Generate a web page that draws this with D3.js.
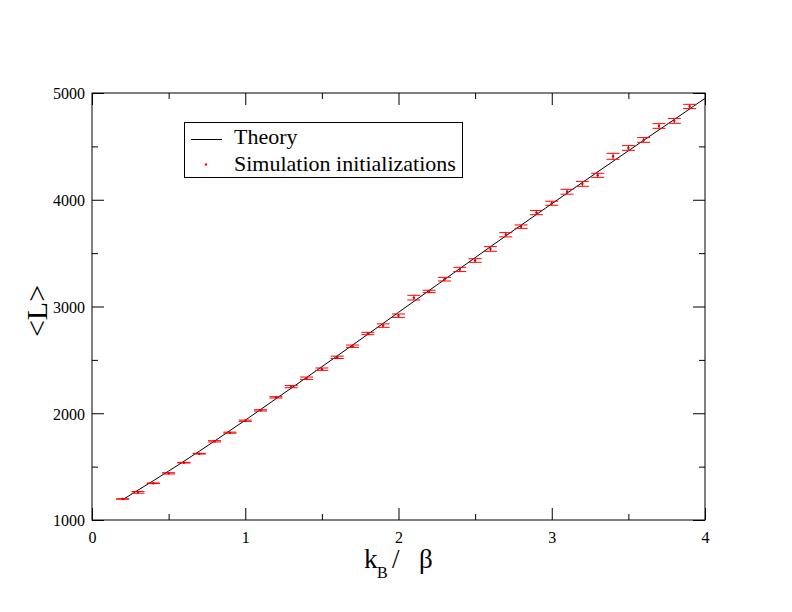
<!DOCTYPE html>
<html>
<head>
<meta charset="utf-8">
<script src="https://cdn.jsdelivr.net/npm/d3@7"></script>
<style>
html,body{margin:0;padding:0;background:#fff;}
svg{display:block;}
text{font-family:"Liberation Serif","Times New Roman",serif;}
</style>
</head>
<body>
<svg id="chart" width="792" height="612" font-family="Liberation Serif, serif"></svg>
<script>
// ---- data ----
const simX = [0.2,0.3,0.4,0.5,0.6,0.7,0.8,0.9,1.0,1.1,1.2,1.3,1.4,1.5,1.6,1.7,1.8,1.9,2.0,2.1,2.2,2.3,2.4,2.5,2.6,2.7,2.8,2.9,3.0,3.1,3.2,3.3,3.4,3.5,3.6,3.7,3.8,3.9];
const simY = [1197,1259,1344,1437,1537,1621,1737,1818,1930,2027,2149,2249,2328,2413,2524,2628,2747,2821,2914,3083,3141,3256,3347,3431,3539,3672,3748,3880,3967,4075,4149,4229,4407,4485,4560,4691,4739,4874];
const simErr = [2,8,3,6,3,3,6,5,6,6,6,10,11,11,11,11,11,16,16,22,11,17,20,17,22,20,16,20,19,23,23,19,28,22,22,22,23,20];
const theoryX = [0.2,0.4,0.6,0.8,1.0,1.2,1.4,1.6,1.8,2.0,2.2,2.4,2.6,2.8,3.0,3.2,3.4,3.6,3.8,4.0];
const theoryY = [1190,1368,1550,1740,1935,2135,2335,2537,2740,2945,3150,3355,3560,3762,3962,4162,4360,4557,4752,4950];
const xMajor = [0,1,2,3,4];
const xMinor = [0.5,1.5,2.5,3.5];
const yMajor = [1000,2000,3000,4000,5000];
const yMinor = [1500,2500,3500,4500];
const legendLabels = ["Theory","Simulation initializations"];

// ---- layout ----
const L = 92, R = 705, T = 93, B = 520;
const FONT = "Liberation Serif, Times New Roman, serif";
const x = d3.scaleLinear().domain([0,4]).range([L,R]);
const y = d3.scaleLinear().domain([1000,5000]).range([B,T]);
const svg = d3.select("#chart");

// frame
svg.append("rect").attr("x",L).attr("y",T).attr("width",R-L).attr("height",B-T)
  .attr("fill","none").attr("stroke","#000").attr("stroke-width",1);

// axes with inward ticks
function ax(gen, tx, ty, vals, size, fmt, pad){
  const g = svg.append("g").attr("transform",`translate(${tx},${ty})`)
    .call(gen.tickValues(vals).tickFormat(fmt).tickSizeInner(-size).tickSizeOuter(0).tickPadding(pad));
  g.attr("font-family",FONT).attr("font-size",16);
  return g;
}
ax(d3.axisBottom(x), 0, B, xMajor, 12, d3.format("d"), 12);
ax(d3.axisBottom(x), 0, B, xMinor, 6, ()=>"", 3);
ax(d3.axisTop(x), 0, T, xMajor, 12, ()=>"", 3);
ax(d3.axisTop(x), 0, T, xMinor, 6, ()=>"", 3);
const gyL = ax(d3.axisLeft(y), L, 0, yMajor, 12, d3.format("d"), 7);
ax(d3.axisLeft(y), L, 0, yMinor, 6, ()=>"", 3);
ax(d3.axisRight(y), R, 0, yMajor, 12, ()=>"", 3);
ax(d3.axisRight(y), R, 0, yMinor, 6, ()=>"", 3);
svg.selectAll(".domain").remove();
svg.selectAll(".tick line").attr("stroke","#000").attr("stroke-width",1);
svg.selectAll(".tick text").attr("fill","#000").style("font-family",FONT).style("font-size","16px");
gyL.selectAll(".tick text").attr("dy","0.36em");

// axis titles
const xt = svg.append("text").attr("y",568).style("font-size","27px").attr("fill","#000");
xt.append("tspan").attr("x",364).text("k");
xt.append("tspan").attr("x",377).attr("dy",10).style("font-size","16px").text("B");
xt.append("tspan").attr("x",392).attr("dy",-10).text("/");
xt.append("tspan").attr("x",419).text("\u03B2");

svg.append("text").attr("transform","translate(47,311) rotate(-90)").attr("text-anchor","middle")
  .style("font-size","30px").attr("fill","#000").text("<L>");

// theory line
const pts = theoryX.map((d,i)=>[d,theoryY[i]]);
svg.append("path").datum(pts)
  .attr("d", d3.line().x(d=>x(d[0])).y(d=>y(d[1])).curve(d3.curveMonotoneX))
  .attr("fill","none").attr("stroke","#000").attr("stroke-width",1);

// error bars
const sim = simX.map((d,i)=>({x:d,y:simY[i],e:simErr[i]}));
const eg = svg.append("g").attr("stroke","#ff0000").attr("stroke-width",1).attr("fill","none");
const capW = 6.5;
sim.forEach(d=>{
  const cx = x(d.x), y1 = y(d.y+d.e), y0 = y(d.y-d.e);
  eg.append("line").attr("x1",cx).attr("x2",cx).attr("y1",y1).attr("y2",y0);
  eg.append("line").attr("x1",cx-capW).attr("x2",cx+capW).attr("y1",y1).attr("y2",y1);
  eg.append("line").attr("x1",cx-capW).attr("x2",cx+capW).attr("y1",y0).attr("y2",y0);
});
svg.append("g").selectAll("circle").data(sim).join("circle")
  .attr("cx",d=>x(d.x)).attr("cy",d=>y(d.y)).attr("r",1.2).attr("fill","#dd0000");

// legend
const lg = svg.append("g");
lg.append("rect").attr("x",184.5).attr("y",122.5).attr("width",278).attr("height",55)
  .attr("fill","#fff").attr("stroke","#000").attr("stroke-width",1);
lg.append("line").attr("x1",191).attr("x2",222).attr("y1",139.5).attr("y2",139.5)
  .attr("stroke","#000").attr("stroke-width",1);
lg.append("circle").attr("cx",206).attr("cy",164.5).attr("r",1.2).attr("fill","#ff0000");
lg.selectAll("text.lbl").data(legendLabels).join("text").attr("class","lbl")
  .attr("x",234).attr("y",(d,i)=>144+i*27).style("font-size","22px").attr("fill","#000").text(d=>d);
</script>
</body>
</html>
